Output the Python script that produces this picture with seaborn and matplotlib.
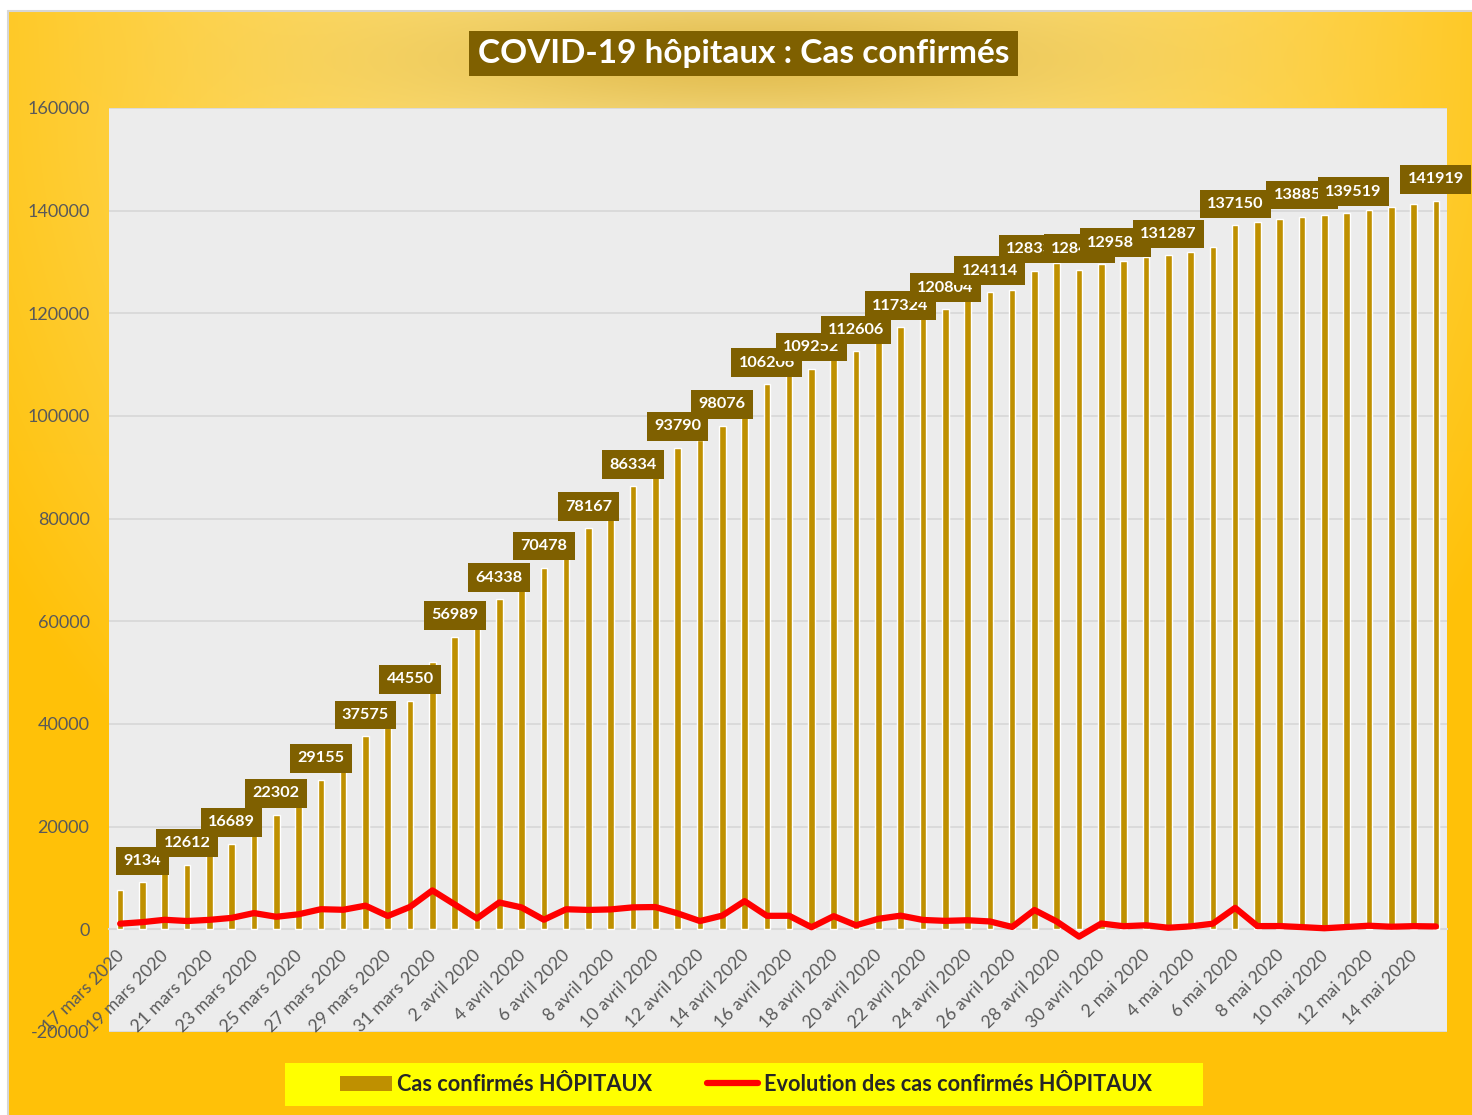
import numpy as np
import pandas as pd
import seaborn as sns
import matplotlib.pyplot as plt
from matplotlib.patches import Patch, Rectangle
from matplotlib.lines import Line2D

# cas confirmés (cumul) du 17 mars au 15 mai 2020
dates = [
    "17 mars 2020", "18 mars 2020", "19 mars 2020", "20 mars 2020", "21 mars 2020",
    "22 mars 2020", "23 mars 2020", "24 mars 2020", "25 mars 2020", "26 mars 2020",
    "27 mars 2020", "28 mars 2020", "29 mars 2020", "30 mars 2020", "31 mars 2020",
    "1 avril 2020", "2 avril 2020", "3 avril 2020", "4 avril 2020", "5 avril 2020",
    "6 avril 2020", "7 avril 2020", "8 avril 2020", "9 avril 2020", "10 avril 2020",
    "11 avril 2020", "12 avril 2020", "13 avril 2020", "14 avril 2020", "15 avril 2020",
    "16 avril 2020", "17 avril 2020", "18 avril 2020", "19 avril 2020", "20 avril 2020",
    "21 avril 2020", "22 avril 2020", "23 avril 2020", "24 avril 2020", "25 avril 2020",
    "26 avril 2020", "27 avril 2020", "28 avril 2020", "29 avril 2020", "30 avril 2020",
    "1 mai 2020", "2 mai 2020", "3 mai 2020", "4 mai 2020", "5 mai 2020",
    "6 mai 2020", "7 mai 2020", "8 mai 2020", "9 mai 2020", "10 mai 2020",
    "11 mai 2020", "12 mai 2020", "13 mai 2020", "14 mai 2020", "15 mai 2020",
]

cas_confirmes = [
    7730, 9134, 10995, 12612, 14459, 16689, 19856, 22302, 25233, 29155,
    32964, 37575, 40174, 44550, 52128, 56989, 59105, 64338, 68605, 70478,
    74390, 78167, 82048, 86334, 90676, 93790, 95403, 98076, 103573, 106206,
    108847, 109252, 111821, 112606, 114657, 117324, 119151, 120804, 122577, 124114,
    124575, 128339, 129859, 128442, 129581, 130185, 130979, 131287, 131863, 132967,
    137150, 137779, 138421, 138854, 139063, 139519, 140227, 140734, 141356, 141919,
]

# evolution journaliere (nouveaux cas)
evolution = [
    1097, 1404, 1861, 1617, 1847, 2230, 3167, 2446, 2931, 3922,
    3809, 4611, 2599, 4376, 7578, 4861, 2116, 5233, 4267, 1873,
    3912, 3777, 3881, 4286, 4342, 3114, 1613, 2673, 5497, 2633,
    2641, 405, 2569, 785, 2051, 2667, 1827, 1653, 1773, 1537,
    461, 3764, 1520, -1417, 1139, 604, 794, 308, 576, 1104,
    4183, 629, 642, 433, 209, 456, 708, 507, 622, 563,
]

# barres qui portent une etiquette
barres_etiquetees = [1, 3, 5, 7, 9, 11, 13, 15, 17, 19, 21, 23, 25, 27, 29, 31,
                     33, 35, 37, 39, 41, 43, 44, 47, 50, 53, 55, 59]

titre = "COVID-19 hôpitaux : Cas confirmés"
legende = ["Cas confirmés HÔPITAUX", "Evolution des cas confirmés HÔPITAUX"]

df = pd.DataFrame({"date": dates, "cas": cas_confirmes})

sns.set_style("white")
plt.rcParams["font.family"] = ["Lato", "DejaVu Sans"]
plt.rcParams["axes.unicode_minus"] = False

W, H = 1472, 1115
fig = plt.figure(figsize=(W / 100, H / 100), dpi=100)
fig.patch.set_facecolor("white")

# fond degrade jaune / or
bw, bh = W - 9, H - 12
yy, xx = np.mgrid[0:bh, 0:bw]
X = xx + 9
Y = yy + 12
t = np.sqrt(((X - 740) / 880) ** 2 + ((Y - 30) / 1000) ** 2)
t = np.clip(t, 0, 1) ** 1.3
clair = np.array([255, 234, 155]) / 255
sature = np.array([255, 193, 8]) / 255
img = clair + (sature - clair) * t[..., None]
w = np.exp(-(((X - 745) / 370) ** 2 + ((Y - 58) / 70) ** 2))
moutarde = np.array([222, 182, 68]) / 255
img = img + (moutarde - img) * (0.85 * w)[..., None]

bg = fig.add_axes([9 / W, 0, bw / W, bh / H], zorder=-2)
bg.imshow(img, aspect="auto", interpolation="bilinear")
bg.axis("off")
fig.add_artist(Line2D([8 / W, 8 / W], [0, 1 - 10.5 / H], transform=fig.transFigure,
                      color="#D6D6D6", lw=1.5))
fig.add_artist(Line2D([8 / W, 1], [1 - 10.5 / H, 1 - 10.5 / H], transform=fig.transFigure,
                      color="#D6D6D6", lw=1.5))

ax = fig.add_axes([109 / W, 1 - 1032 / H, (1447 - 109) / W, (1032 - 108) / H])
ax.set_facecolor("#ECECEC")

sns.barplot(data=df, x="date", y="cas", color="#BF9000", saturation=1, width=0.3,
            ax=ax, zorder=2)
sns.lineplot(x=np.arange(len(evolution)), y=evolution, color="#FF0000", linewidth=4.5,
             ax=ax, zorder=3, solid_capstyle="round", solid_joinstyle="round")

ax.set_xlim(-0.5, len(dates) - 0.5)
ax.set_ylim(-20000, 160000)
yt = list(range(-20000, 160001, 20000))
ax.set_yticks(yt)
ax.set_yticklabels([str(v) for v in yt], fontsize=13, color="#595959")
ax.yaxis.grid(True, color="#D9D9D9", lw=1.3)
ax.xaxis.grid(False)
ax.set_axisbelow(True)
ax.tick_params(axis="y", length=0, pad=14)

# axe des x : graduations aux limites de categories, une date sur deux
ax.set_xticks(np.arange(-0.5, len(dates), 2))
ax.set_xticklabels([])
ax.tick_params(axis="x", length=4, width=1.5, color="#D9D9D9", direction="out")
for i in range(0, len(dates), 2):
    ax.annotate(dates[i], xy=(i, 0), xytext=(1, -17), textcoords="offset points",
                rotation=45, ha="right", va="center", rotation_mode="anchor",
                fontsize=12.7, color="#595959", annotation_clip=False)
ax.set_xlabel("")
ax.set_ylabel("")

for s in ["left", "right", "top"]:
    ax.spines[s].set_visible(False)
ax.spines["bottom"].set_position(("data", 0))
ax.spines["bottom"].set_color("#D9D9D9")
ax.spines["bottom"].set_linewidth(1.5)
ax.spines["bottom"].set_zorder(1.5)

# etiquettes de donnees
decalage = {44: 14, 55: 7}
for i in barres_etiquetees:
    ax.annotate(str(cas_confirmes[i]), xy=(i, cas_confirmes[i]),
                xytext=(decalage.get(i, 0) * 0.72, 10.4), textcoords="offset points",
                ha="center", va="bottom", fontsize=11.7, fontweight="bold", color="white",
                bbox=dict(boxstyle="square,pad=0.45", fc="#7F6000", ec="none"),
                zorder=5, annotation_clip=False)

# titre
fig.text(743.5 / W, 1 - 53.5 / H, titre, ha="center", va="center", fontsize=24,
         fontweight="bold", color="white",
         bbox=dict(boxstyle="square,pad=0.25", fc="#7F6000", ec="none"))

# legende
fig.add_artist(Rectangle((285 / W, 1 - 1106 / H), (1203 - 285) / W, 43 / H,
                         transform=fig.transFigure, fc="#FFFF00", ec="none"))
poignees = [Patch(facecolor="#BF9000", edgecolor="none"),
            Line2D([], [], color="#FF0000", lw=4.5, solid_capstyle="round")]
fig.legend(poignees, legende, loc="center", bbox_to_anchor=(746 / W, 1 - 1084.5 / H),
           ncol=2, frameon=False, prop={"weight": "bold", "size": 15.7},
           handlelength=2.35, handletextpad=0.25, columnspacing=2.5)

fig.savefig("out.png", dpi=100)
